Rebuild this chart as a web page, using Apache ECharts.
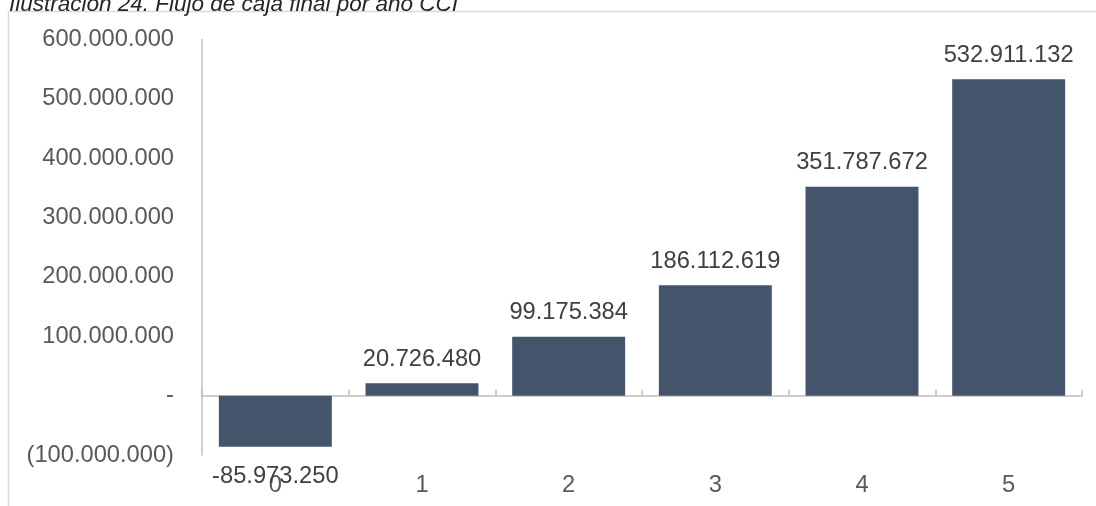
<!DOCTYPE html>
<html>
<head>
<meta charset="utf-8">
<script src="https://cdn.jsdelivr.net/npm/echarts@6/dist/echarts.min.js"></script>
<style>
  html, body { margin: 0; padding: 0; background: #ffffff; }
  #chart { width: 1096px; height: 506px; }
</style>
</head>
<body>
<div id="chart"></div>
<script>
// Flujo de caja final por año (CCI)
const titleText = 'Ilustración 24. Flujo de caja final por año CCI';
const years = ['0', '1', '2', '3', '4', '5'];
const cashFlow = [-85973250, 20726480, 99175384, 186112619, 351787672, 532911132];

const FONT = '"Liberation Sans", Arial, sans-serif';
const BAR_COLOR = '#44546A';
const AXIS_COLOR = '#BFBFBF';

// Spanish-style thousands separator: 1.234.567
function fmtThousands(v) {
  const s = Math.abs(Math.round(v)).toString();
  return s.replace(/\B(?=(\d{3})+(?!\d))/g, '.');
}
// Accounting style for the value axis: zero as "-", negatives in parentheses
function fmtAxis(v) {
  if (v === 0) return '-';
  if (v < 0) return '(' + fmtThousands(v) + ')';
  return fmtThousands(v);
}
function fmtLabel(v) {
  return (v < 0 ? '-' : '') + fmtThousands(v);
}

const chart = echarts.init(document.getElementById('chart'), null, { renderer: 'canvas' });

chart.setOption({
  backgroundColor: '#ffffff',
  animation: false,
  title: {
    text: titleText,
    left: 4,
    top: -12,
    textStyle: {
      fontFamily: FONT,
      fontStyle: 'italic',
      fontWeight: 'normal',
      fontSize: 22.5,
      color: '#262626'
    }
  },
  graphic: [{
    type: 'rect',
    shape: { x: 8.5, y: 11.5, width: 1200, height: 600 },
    style: { fill: 'none', stroke: '#D9D9D9', lineWidth: 1.5 },
    silent: true,
    z: -1
  }],
  grid: { left: 202, right: 14, top: 39.5, bottom: 51, containLabel: false },
  xAxis: [{
    type: 'category',
    data: years,
    axisLine: { onZero: true, lineStyle: { color: AXIS_COLOR, width: 1.5 } },
    axisTick: { show: true, inside: true, length: 6, lineStyle: { color: AXIS_COLOR, width: 1.5 } },
    axisLabel: { show: false }
  }, {
    type: 'category',
    data: years,
    position: 'bottom',
    axisLine: { show: false, onZero: false },
    axisTick: { show: false },
    axisLabel: {
      margin: 18,
      fontFamily: FONT,
      fontSize: 23.7,
      color: '#595959'
    }
  }],
  yAxis: {
    type: 'value',
    min: -100000000,
    max: 600000000,
    interval: 100000000,
    splitLine: { show: false },
    axisLine: { show: true, lineStyle: { color: AXIS_COLOR, width: 1.5 } },
    axisTick: { show: false },
    axisLabel: {
      margin: 28,
      fontFamily: FONT,
      fontSize: 23.7,
      color: '#595959',
      formatter: fmtAxis
    }
  },
  series: [{
    type: 'bar',
    xAxisIndex: 0,
    barCategoryGap: '23%',
    itemStyle: { color: BAR_COLOR },
    data: cashFlow.map(v => ({
      value: v,
      label: { position: v < 0 ? 'bottom' : 'top', distance: v < 0 ? 18 : 12 }
    })),
    label: {
      show: true,
      fontFamily: FONT,
      fontSize: 23.7,
      color: '#404040',
      formatter: p => fmtLabel(p.value)
    }
  }]
});
</script>
</body>
</html>
